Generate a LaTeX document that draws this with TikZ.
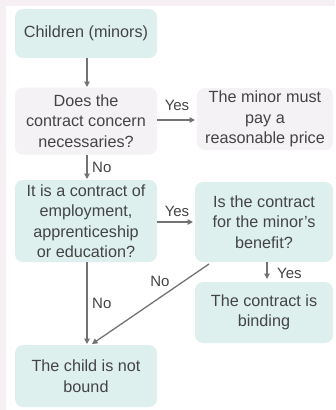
\documentclass[tikz,border=0pt]{standalone}
\usepackage{fontspec}
\setmainfont{Liberation Sans}
\usetikzlibrary{arrows.meta}
\definecolor{bgpink}{HTML}{F6F0F4}
\definecolor{teal}{HTML}{DDF0EE}
\definecolor{greybox}{HTML}{F4F2F4}
\definecolor{txt}{HTML}{444444}
\definecolor{arr}{HTML}{737373}
\tikzset{
  box/.style={rounded corners=8pt, inner sep=0pt, align=center, text=txt,
    font=\fontsize{16.2}{20.5}\selectfont},
  tealbox/.style={box, fill=teal},
  greyb/.style={box, fill=greybox},
  conn/.style={draw=arr, line width=1.3pt, -{Triangle[length=5.5pt,width=5.5pt]}},
  lbl/.style={text=txt, font=\fontsize{15}{18}\selectfont, inner sep=0pt}
}
\begin{document}
\begin{tikzpicture}[x=1pt,y=-1pt]
\useasboundingbox (0,0) rectangle (335,410);
\fill[bgpink] (0,0) rectangle (335,410);
\fill[white] (6,6) rectangle (335,410);

\node[tealbox, minimum width=142pt, minimum height=49pt] (b1) at (86,33.5) {Children (minors)};
\node[greyb, minimum width=142pt, minimum height=67pt] (b2) at (86,121) {Does the\\contract concern\\necessaries?};
\node[greyb, minimum width=136pt, minimum height=62pt] (b3) at (265,119) {The minor must\\pay a\\reasonable price};
\node[tealbox, minimum width=142pt, minimum height=82pt] (b4) at (86,221) {It is a contract of\\employment,\\apprenticeship\\or education?};
\node[tealbox, minimum width=138pt, minimum height=80pt] (b5) at (264,222) {Is the contract\\for the minor{\char"27}s\\benefit?};
\node[tealbox, minimum width=138pt, minimum height=61pt] (b6) at (264,312.5) {The contract is\\binding};
\node[tealbox, minimum width=142pt, minimum height=62pt] (b7) at (86,376) {The child is not\\bound};

\coordinate (e1) at (87,87);
\draw[conn] (b1.south -| e1) -- (e1);
\coordinate (e2) at (195,120);
\draw[conn] (b2.east |- e2) -- (e2);
\coordinate (e3) at (87,179);
\draw[conn] (b2.south -| e3) -- (e3);
\coordinate (e4) at (193,222);
\draw[conn] (b4.east |- e4) -- (e4);
\coordinate (e5) at (267,279);
\draw[conn] (b5.south -| e5) -- (e5);
\coordinate (s6) at (209,264);
\coordinate (e6) at (92,344);
\draw[conn] (s6) -- (e6);
\coordinate (e7) at (87,344);
\draw[conn] (b4.south -| e7) -- (e7);

\node[lbl] (l1) at (177,105) {Yes};
\node[lbl, anchor=west] (l2) at (92,167) {No};
\node[lbl] (l3) at (177,211) {Yes};
\node[lbl, anchor=west] (l4) at (277,273) {Yes};
\node[lbl] (l5) at (160,281) {No};
\node[lbl, anchor=west] (l6) at (92,303) {No};
\end{tikzpicture}
\end{document}
